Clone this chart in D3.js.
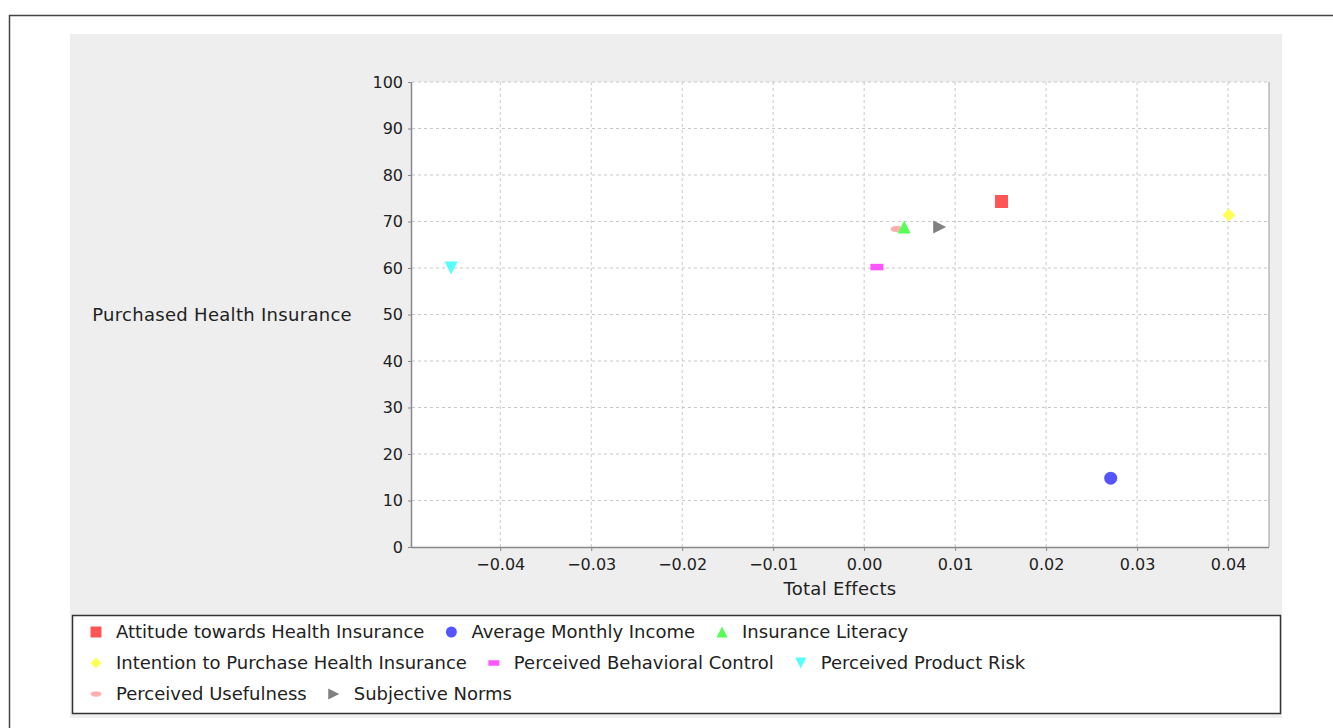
<!DOCTYPE html>
<html>
<head>
<meta charset="utf-8">
<script src="https://cdn.jsdelivr.net/npm/d3@7"></script>
<style>
  html, body { margin: 0; padding: 0; background: #fff; }
  svg { display: block; }
</style>
</head>
<body>
<div id="chart"></div>
<script>
// series
const seriesNames = [
  'Attitude towards Health Insurance',
  'Average Monthly Income',
  'Insurance Literacy',
  'Intention to Purchase Health Insurance',
  'Perceived Behavioral Control',
  'Perceived Product Risk',
  'Perceived Usefulness',
  'Subjective Norms'
]
const totalEffects = [0.0151, 0.0271, 0.0044, 0.0401, 0.0014, -0.0454, 0.0036, 0.0083]
const purchased = [74.3, 14.8, 68.8, 71.4, 60.2, 60.0, 68.4, 68.8]
const seriesColors = ['#ff5555', '#5555ff', '#55ff55', '#ffff55', '#ff55ff', '#55ffff', '#ffafaf', '#808080']
const seriesShapes = ['square', 'circle', 'up', 'diamond', 'hrect', 'down', 'ellipse', 'right']
const xTicks = [-0.04, -0.03, -0.02, -0.01, 0.00, 0.01, 0.02, 0.03, 0.04]
const yTicks = [0, 10, 20, 30, 40, 50, 60, 70, 80, 90, 100]
const legendRows = [[0, 1, 2], [3, 4, 5], [6, 7]]

const width = 1333, height = 728
const plot = { left: 412, right: 1269, top: 82, bottom: 547 }
const labelFont = 'DejaVu Sans'

const svg = d3.select('#chart').append('svg')
  .attr('width', width)
  .attr('height', height)

// outer frame (runs off the page)
svg.append('path')
  .attr('d', 'M9.5,' + height + 'V15.5H' + width)
  .attr('fill', 'none')
  .attr('stroke', '#444')
  .attr('stroke-width', 1.5)

// grey chart panel
svg.append('rect')
  .attr('x', 70).attr('y', 34)
  .attr('width', 1212).attr('height', 684)
  .attr('fill', '#eeeeee')

const xScale = d3.scaleLinear()
  .domain([-0.0497, 0.0445])
  .range([plot.left, plot.right])
const yScale = d3.scaleLinear()
  .domain([0, 100])
  .range([plot.bottom, plot.top])

// plot background
svg.append('rect')
  .attr('x', plot.left).attr('y', plot.top)
  .attr('width', plot.right - plot.left).attr('height', plot.bottom - plot.top)
  .attr('fill', '#fff')

// grid lines
const grid = svg.append('g')
grid.selectAll('.gx').data(xTicks).enter().append('line')
  .attr('x1', d => xScale(d)).attr('x2', d => xScale(d))
  .attr('y1', plot.top).attr('y2', plot.bottom)
  .attr('stroke', '#c8c8c8').attr('stroke-dasharray', '3,3')
grid.selectAll('.gy').data(yTicks.filter(d => d > 0)).enter().append('line')
  .attr('y1', d => yScale(d)).attr('y2', d => yScale(d))
  .attr('x1', plot.left).attr('x2', plot.right)
  .attr('stroke', '#c8c8c8').attr('stroke-dasharray', '3,3')

// plot outline (right side)
svg.append('line')
  .attr('x1', plot.right).attr('x2', plot.right)
  .attr('y1', plot.top).attr('y2', plot.bottom)
  .attr('stroke', '#999')

// axes
const xAxis = d3.axisBottom(xScale)
  .tickValues(xTicks)
  .tickSizeInner(4).tickSizeOuter(0)
  .tickPadding(5)
  .tickFormat(d => d3.format('.2f')(d).replace('-', '\u2212'))
const yAxis = d3.axisLeft(yScale)
  .tickValues(yTicks)
  .tickSizeInner(4).tickSizeOuter(0)
  .tickPadding(5)

const gx = svg.append('g')
  .attr('transform', 'translate(0,' + plot.bottom + ')')
  .call(xAxis)
const gy = svg.append('g')
  .attr('transform', 'translate(' + plot.left + ',0)')
  .call(yAxis)
gx.select('.domain').attr('d', 'M' + plot.left + ',0.5H' + plot.right)
gy.select('.domain').attr('d', 'M-0.5,' + plot.top + 'V' + plot.bottom)
;[gx, gy].forEach(g => {
  g.select('.domain').attr('stroke', '#888').attr('stroke-width', 1.5)
  g.selectAll('.tick line').attr('stroke', '#888')
  g.selectAll('.tick text')
    .attr('fill', '#222')
    .style('font-family', 'DejaVu Sans')
    .style('font-size', '16px')
})
gx.selectAll('.tick text').attr('dy', '0.9em')

// axis labels
svg.append('text')
  .attr('x', 840).attr('y', 595)
  .attr('text-anchor', 'middle')
  .style('font-family', labelFont)
  .style('font-size', '18px')
  .style('letter-spacing', '0.3px')
  .attr('fill', '#222')
  .text('Total Effects')
svg.append('text')
  .attr('x', 352).attr('y', (plot.top + plot.bottom) / 2 + 6)
  .attr('text-anchor', 'end')
  .style('font-family', labelFont)
  .style('font-size', '18px')
  .style('letter-spacing', '0.3px')
  .attr('fill', '#222')
  .text('Purchased Health Insurance')

// marker shapes, centred on 0,0
function shapePath (type, s) {
  switch (type) {
    case 'square': return 'M' + -s + ',' + -s + 'h' + 2 * s + 'v' + 2 * s + 'h' + -2 * s + 'Z'
    case 'circle': return 'M' + -s + ',0a' + s + ',' + s + ' 0 1,0 ' + 2 * s + ',0a' + s + ',' + s + ' 0 1,0 ' + -2 * s + ',0Z'
    case 'up': return 'M0,' + -s + 'L' + s + ',' + s + 'L' + -s + ',' + s + 'Z'
    case 'diamond': return 'M0,' + -s + 'L' + s + ',0L0,' + s + 'L' + -s + ',0Z'
    case 'hrect': return 'M' + -s + ',' + -s / 2 + 'h' + 2 * s + 'v' + s + 'h' + -2 * s + 'Z'
    case 'down': return 'M' + -s + ',' + -s + 'L' + s + ',' + -s + 'L0,' + s + 'Z'
    case 'ellipse': return 'M' + -s + ',0a' + s + ',' + s / 2 + ' 0 1,0 ' + 2 * s + ',0a' + s + ',' + s / 2 + ' 0 1,0 ' + -2 * s + ',0Z'
    case 'right': return 'M' + -s + ',' + -s + 'L' + s + ',0L' + -s + ',' + s + 'Z'
  }
}

// points, last series drawn first
const points = d3.range(seriesNames.length).reverse()
svg.append('g')
  .selectAll('path')
  .data(points)
  .enter()
  .append('path')
  .attr('d', i => shapePath(seriesShapes[i], 6.5))
  .attr('transform', i => 'translate(' + xScale(totalEffects[i]) + ',' + yScale(purchased[i]) + ')')
  .attr('fill', i => seriesColors[i])

// legend
svg.append('rect')
  .attr('x', 72.5).attr('y', 615.5)
  .attr('width', 1208).attr('height', 98)
  .attr('fill', '#fff')
  .attr('stroke', '#333')
  .attr('stroke-width', 1.5)

const legend = svg.append('g')
legendRows.forEach((row, r) => {
  let x = 96
  const y = 632 + r * 31
  row.forEach(i => {
    legend.append('path')
      .attr('d', shapePath(seriesShapes[i], 5.5))
      .attr('transform', 'translate(' + x + ',' + y + ')')
      .attr('fill', seriesColors[i])
    const t = legend.append('text')
      .attr('x', x + 20).attr('y', y + 6)
      .style('font-family', labelFont)
      .style('font-size', '18px')
      .attr('fill', '#222')
      .text(seriesNames[i])
    x += 20 + t.node().getComputedTextLength() + 27
  })
})
</script>
</body>
</html>
